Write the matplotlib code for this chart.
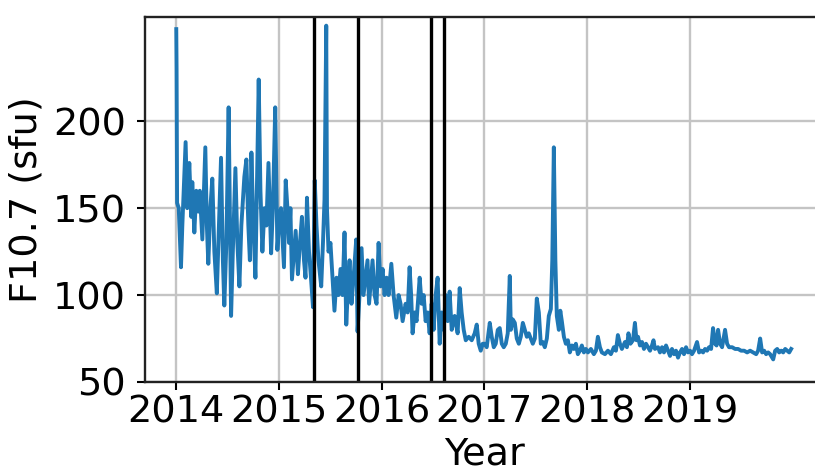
import numpy as np
import matplotlib
matplotlib.use("Agg")
import matplotlib.pyplot as plt

# F10.7 solar radio flux, decimal year vs flux (sfu)
frac_2014 = [0.000, 0.003, 0.008, 0.024, 0.046, 0.059, 0.091, 0.107, 0.127, 0.146,
             0.156, 0.176, 0.195, 0.215, 0.229, 0.254, 0.283, 0.298, 0.312, 0.332,
             0.351, 0.371, 0.395, 0.415, 0.436, 0.454, 0.468, 0.488, 0.510, 0.534,
             0.551, 0.576, 0.595, 0.615, 0.634, 0.663, 0.683, 0.702, 0.717, 0.732,
             0.751, 0.771, 0.803, 0.820, 0.839, 0.859, 0.878, 0.898, 0.924, 0.941,
             0.964, 0.985]
flux_2014 = [253, 230, 153, 150, 116, 140, 188, 150, 176, 145,
             165, 136, 160, 148, 160, 132, 185, 140, 118, 150,
             167, 125, 101, 140, 179, 120, 94, 130, 208, 88,
             125, 173, 130, 105, 140, 168, 178, 140, 120, 182,
             140, 110, 224, 160, 125, 150, 140, 176, 124, 150,
             208, 126]

frac_2015 = [0.005, 0.020, 0.049, 0.066, 0.083, 0.098, 0.112, 0.127, 0.163, 0.185,
             0.205, 0.224, 0.244, 0.259, 0.273, 0.293, 0.312, 0.332, 0.349, 0.366,
             0.385, 0.412, 0.429, 0.444, 0.461, 0.468, 0.483, 0.502, 0.522, 0.541,
             0.561, 0.580, 0.600, 0.619, 0.639, 0.656, 0.673, 0.688, 0.707, 0.727,
             0.753, 0.766, 0.785, 0.805, 0.824, 0.844, 0.863, 0.878, 0.898, 0.912,
             0.932, 0.951, 0.971, 0.990]
flux_2015 = [145, 150, 116, 166, 150, 130, 150, 109, 137, 112,
             130, 145, 120, 110, 156, 125, 110, 93, 166, 140,
             120, 105, 130, 155, 255, 150, 125, 130, 110, 91,
             110, 100, 115, 100, 136, 83, 105, 120, 95, 110,
             132, 79, 100, 127, 100, 110, 120, 95, 110, 120,
             100, 95, 130, 105]

frac_2016 = [0.010, 0.029, 0.049, 0.068, 0.095, 0.117, 0.143, 0.166, 0.185, 0.205,
             0.234, 0.254, 0.273, 0.288, 0.302, 0.322, 0.341, 0.371, 0.390, 0.410,
             0.429, 0.449, 0.468, 0.488, 0.507, 0.527, 0.546, 0.566, 0.585, 0.605,
             0.624, 0.644, 0.663, 0.683, 0.712, 0.741, 0.761, 0.780, 0.800, 0.820,
             0.849, 0.878, 0.907, 0.927, 0.946, 0.966, 0.985]
flux_2016 = [115, 100, 110, 100, 118, 100, 87, 100, 95, 85,
             95, 90, 116, 100, 78, 90, 85, 110, 95, 100,
             85, 90, 78, 95, 80, 100, 110, 72, 90, 80,
             100, 85, 102, 80, 88, 78, 104, 90, 80, 74,
             76, 74, 78, 83, 72, 68, 72]

frac_2017 = [0.005, 0.024, 0.054, 0.073, 0.093, 0.112, 0.132, 0.151, 0.171, 0.190,
             0.210, 0.229, 0.249, 0.259, 0.278, 0.298, 0.317, 0.337, 0.356, 0.376,
             0.395, 0.415, 0.434, 0.454, 0.473, 0.493, 0.512, 0.532, 0.551, 0.571,
             0.590, 0.610, 0.629, 0.649, 0.663, 0.678, 0.693, 0.707, 0.727, 0.741,
             0.756, 0.776, 0.795, 0.815, 0.834, 0.854, 0.873, 0.893, 0.912, 0.932,
             0.951, 0.971, 0.990]
flux_2017 = [72, 70, 84, 76, 70, 72, 80, 81, 72, 70,
             72, 78, 111, 80, 86, 84, 75, 72, 76, 84,
             80, 76, 78, 75, 72, 75, 98, 90, 72, 73,
             70, 75, 88, 92, 120, 185, 120, 88, 80, 91,
             85, 76, 72, 74, 67, 71, 69, 72, 66, 68,
             71, 67, 69]

frac_2018 = [0.010, 0.039, 0.068, 0.088, 0.107, 0.127, 0.146, 0.176, 0.205, 0.234,
             0.263, 0.283, 0.302, 0.322, 0.341, 0.371, 0.390, 0.405, 0.424, 0.449,
             0.468, 0.483, 0.498, 0.517, 0.537, 0.556, 0.576, 0.595, 0.615, 0.634,
             0.649, 0.663, 0.693, 0.712, 0.732, 0.751, 0.771, 0.790, 0.810, 0.829,
             0.849, 0.868, 0.888, 0.907, 0.927, 0.946, 0.966, 0.985]
flux_2018 = [67, 69, 66, 68, 76, 70, 67, 66, 68, 66,
             70, 68, 77, 72, 69, 73, 70, 78, 72, 74,
             84, 74, 76, 71, 73, 69, 72, 70, 68, 71,
             74, 69, 70, 67, 70, 67, 71, 68, 65, 69,
             66, 68, 64, 67, 69, 66, 70, 67]

frac_2019 = [0.005, 0.024, 0.044, 0.073, 0.093, 0.112, 0.132, 0.151, 0.171, 0.190,
             0.210, 0.229, 0.249, 0.263, 0.278, 0.298, 0.317, 0.346, 0.366, 0.385,
             0.415, 0.444, 0.473, 0.502, 0.532, 0.561, 0.590, 0.620, 0.649, 0.668,
             0.688, 0.707, 0.727, 0.746, 0.766, 0.785, 0.805, 0.815, 0.834, 0.854,
             0.873, 0.893, 0.912, 0.932, 0.951, 0.971, 0.990]
flux_2019 = [68, 66, 68, 73, 67, 68, 67, 69, 68, 70,
             69, 81, 72, 71, 80, 72, 70, 80, 72, 70,
             70, 69, 69, 68, 68, 67, 68, 67, 66, 68,
             75, 67, 68, 66, 67, 66, 64, 63, 68, 69,
             67, 68, 67, 69, 68, 67, 69]

# event markers (decimal year)
event_years = [2015.337, 2015.766, 2016.478, 2016.605]
year_ticks = [2014, 2015, 2016, 2017, 2018, 2019]

years = []
flux = []
for base, fr, fl in [(2014, frac_2014, flux_2014), (2015, frac_2015, flux_2015),
                     (2016, frac_2016, flux_2016), (2017, frac_2017, flux_2017),
                     (2018, frac_2018, flux_2018), (2019, frac_2019, flux_2019)]:
    years += [base + f for f in fr]
    flux += fl
years = np.array(years)
flux = np.array(flux)

fig = plt.figure(figsize=(8.15, 4.71), dpi=100)
ax = fig.add_axes([0.1785, 0.189, 0.8313, 0.775])

ax.plot(years, flux, color="#1f77b4", linewidth=2.8)
for ev in event_years:
    ax.axvline(ev, color="black", linewidth=2.4)

ax.set_xlim(2013.7, 2020.3)
ax.set_ylim(50, 260)
ax.set_xticks(year_ticks)
ax.set_xticklabels([str(y) for y in year_ticks])
ax.set_yticks([50, 100, 150, 200])
ax.grid(True, color="#c4c4c4", linewidth=1.7)
ax.set_axisbelow(True)

for sp in ax.spines.values():
    sp.set_linewidth(1.7)
    sp.set_color("#222222")
ax.tick_params(axis="both", labelsize=27.5, width=1.5, length=6, pad=3)
ax.tick_params(axis="y", pad=8)
ax.set_xlabel("Year", fontsize=27.5, labelpad=4)
ax.set_ylabel("F10.7 (sfu)", fontsize=27.5, labelpad=6)

fig.savefig("out.png", dpi=100)
